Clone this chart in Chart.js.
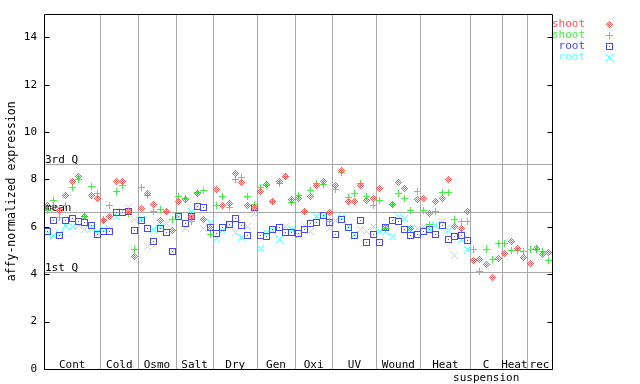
<!DOCTYPE html>
<html><head><meta charset="utf-8">
<script src="https://cdn.jsdelivr.net/npm/chart.js@4.4.1/dist/chart.umd.min.js"></script>
<style>html,body{margin:0;padding:0;background:#fff;}#wrap{width:640px;height:384px;}</style>
</head><body><div id="wrap"><canvas id="c" width="640" height="384"></canvas></div>
<script>
const groupNames = ['Cont','Cold','Osmo','Salt','Dry','Gen','Oxi','UV','Wound','Heat','C\nsuspension','Heat','rec'];
const groupSizes = [9,6,6,6,7,6,6,7,7,8,5,4,4];
const yTicks = [0,2,4,6,8,10,12,14];
const refLabels = ['3rd Q','mean','1st Q'];
const refValues = [8.67, 6.61, 4.08];
const seriesLabels = ['shoot','shoot','root','root'];
const seriesColors = ['#ff5050','#40f040','#4848f0','#60ffff'];

const shootRep1 = [6.88,6.80,6.70,7.32,7.92,8.13,6.42,7.32,7.19,
 6.25,6.45,7.92,7.92,6.66,4.73,
 6.77,7.40,6.94,6.28,6.66,5.86,
 7.05,7.16,6.45,7.40,6.32,5.95,
 7.59,6.91,6.98,8.24,7.87,6.91,6.80,
 7.50,7.78,7.08,7.92,8.13,7.16,
 7.19,6.63,7.30,7.75,7.92,6.60,
 7.75,8.39,7.09,7.08,7.75,7.12,7.19,
 7.61,5.97,6.94,7.87,7.61,5.95,7.16,
 7.19,6.56,7.08,7.19,8.00,6.03,5.93,6.66,
 4.56,4.62,4.41,3.86,4.66,
 4.87,5.39,5.08,4.70,
 4.45,5.08,4.83,4.92];
const shootRep2 = [6.70,7.12,6.39,6.91,7.66,7.99,6.45,7.71,7.40,
 6.31,6.91,7.50,7.75,6.56,5.06,
 7.64,7.33,6.63,6.73,6.63,6.31,
 7.26,7.19,6.24,7.44,7.54,5.67,
 6.91,7.30,6.81,7.99,8.08,7.26,6.94,
 7.68,7.75,7.08,7.82,8.13,7.01,
 7.33,6.63,7.54,7.82,7.78,6.21,
 7.57,8.29,7.23,7.40,7.82,7.26,6.88,
 7.12,5.95,6.94,7.40,7.19,6.70,7.50,
 6.70,6.11,6.66,7.45,7.45,6.32,6.24,6.24,
 5.04,4.10,5.04,4.62,5.29,
 5.29,4.99,4.99,4.94,
 5.04,5.04,4.97,4.59];
const rootRep1 = [5.79,6.25,5.65,6.25,6.35,6.24,6.18,6.07,5.69,
 5.82,5.82,6.60,6.59,6.66,5.86,
 6.28,5.93,5.39,5.95,5.76,4.94,
 6.42,6.14,6.42,6.87,6.81,5.98,
 5.72,5.98,6.10,6.35,6.07,5.65,6.81,
 5.65,5.60,5.88,5.97,5.76,5.76,
 5.72,5.88,6.14,6.18,6.49,6.17,
 5.67,6.32,5.97,5.65,6.27,5.34,5.67,
 5.34,5.97,6.27,6.21,5.88,5.65,5.67,
 5.80,5.88,5.68,6.05,5.48,5.60,5.64,5.43];
const rootRep2 = [5.72,5.65,5.72,6.07,6.00,6.05,5.89,5.97,5.79,
 5.89,5.93,6.45,6.66,6.80,6.31,
 6.31,5.18,5.89,6.00,6.14,4.97,
 6.45,5.93,6.66,6.85,5.93,6.17,
 5.50,5.86,6.10,5.76,5.55,6.03,6.56,
 5.08,5.76,5.86,5.46,6.03,5.90,
 5.65,6.04,5.79,6.42,6.49,5.95,
 6.25,6.39,6.00,5.69,5.88,5.79,6.03,
 5.79,5.79,5.60,6.42,6.35,5.95,5.95,
 6.00,5.90,6.05,6.21,5.86,4.80,5.46,5.05];

function sprite(rows, color){
  const c = document.createElement('canvas');
  c.width = rows[0].length; c.height = rows.length;
  const g = c.getContext('2d'); g.fillStyle = color;
  rows.forEach((r,yy)=>{ for(let xx=0;xx<r.length;xx++) if(r[xx]==='#') g.fillRect(xx,yy,1,1); });
  return c;
}
const sprites = [
  sprite(['...#...','..#.#..','.#.#.#.','#.#.#.#','.#.#.#.','..#.#..','...#...'], seriesColors[0]),
  sprite(['...#...','...#...','...#...','#######','...#...','...#...','...#...'], seriesColors[1]),
  sprite(['#######','#.....#','#.....#','#..#..#','#.....#','#.....#','#######'], seriesColors[2]),
  sprite(['#.....#','.#...#.','..#.#..','...#...','..#.#..','.#...#.','#.....#'], seriesColors[3])
];

function toPoints(arr){ return arr.map((v,i)=>({x:i+0.5,y:v})); }
const allSeries = [shootRep1, shootRep2, rootRep1, rootRep2];

const decor = {
  id:'decor',
  beforeDraw(chart){ chart.ctx.imageSmoothingEnabled = false; },
  beforeDatasetsDraw(chart){
    const {ctx, chartArea:a, scales:{x,y}} = chart;
    ctx.save();
    ctx.imageSmoothingEnabled = false;
    ctx.strokeStyle = '#a8a8a8'; ctx.lineWidth = 1;
    const line=(x1,y1,x2,y2)=>{ctx.beginPath();ctx.moveTo(x1,y1);ctx.lineTo(x2,y2);ctx.stroke();};
    let acc = 0;
    groupSizes.forEach((n,k)=>{ acc+=n; if(k<groupSizes.length-1){ const px=Math.round(x.getPixelForValue(acc))+0.5; line(px,a.top,px,a.bottom);} });
    refValues.forEach(v=>{ const py=Math.round(y.getPixelForValue(v))+0.5; line(a.left,py,a.right,py); });
    ctx.fillStyle='#000'; ctx.font='11px "DejaVu Sans Mono"'; ctx.textBaseline='alphabetic'; ctx.textAlign='left';
    refValues.forEach((v,k)=>{ ctx.fillText(refLabels[k], a.left+1, Math.round(y.getPixelForValue(v))-1); });
    ctx.textAlign='center';
    acc = 0;
    groupNames.forEach((gname,k)=>{
      const cx = x.getPixelForValue(acc+groupSizes[k]/2);
      const parts = gname.split('\n');
      ctx.fillText(parts[0], cx, a.bottom-1.5);
      if(parts[1]) ctx.fillText(parts[1], cx, a.bottom+12);
      acc += groupSizes[k];
    });
    ctx.restore();
  },
  afterDraw(chart){
    const {ctx, chartArea:a, scales:{y}} = chart;
    ctx.save();
    ctx.imageSmoothingEnabled = false;
    ctx.strokeStyle='#000'; ctx.lineWidth=1;
    const L=Math.round(a.left)+0.5, R=Math.round(a.right)+0.5, T=Math.round(a.top)+0.5, B=Math.round(a.bottom)+0.5;
    ctx.beginPath(); ctx.moveTo(L,T); ctx.lineTo(R,T); ctx.lineTo(R,B); ctx.lineTo(L,B); ctx.closePath(); ctx.stroke();
    yTicks.forEach(v=>{
      const py = Math.round(y.getPixelForValue(v))+0.5;
      ctx.beginPath(); ctx.moveTo(L,py); ctx.lineTo(L+5,py); ctx.moveTo(R,py); ctx.lineTo(R-5,py); ctx.stroke();
    });
    ctx.font='11px "DejaVu Sans Mono"'; ctx.textBaseline='middle'; ctx.textAlign='right';
    seriesLabels.forEach((lab,k)=>{
      const ly = 24 + 11*k;
      ctx.fillStyle = seriesColors[k];
      ctx.fillText(lab, 585, ly);
      ctx.drawImage(sprites[k], 606, Math.round(ly)-3);
    });
    ctx.restore();
  }
};

new Chart(document.getElementById('c'), {
  type:'scatter',
  data:{ datasets: allSeries.map((arr,k)=>({
    label: seriesLabels[k], data: toPoints(arr), pointStyle: sprites[k],
    pointRadius: 3.5, pointHoverRadius: 3.5, showLine:false,
    borderColor: seriesColors[k], backgroundColor: seriesColors[k]
  }))},
  options:{
    responsive:false, animation:false, devicePixelRatio:1,
    layout:{ padding:{ left:0, top:13, right:88, bottom:15 } },
    plugins:{ legend:{display:false}, tooltip:{enabled:false} },
    scales:{
      x:{ type:'linear', min:0, max:81, display:false },
      y:{ type:'linear', min:0, max:15,
        afterFit(s){ s.width = 44; },
        afterBuildTicks(s){ s.ticks = yTicks.map(v=>({value:v})); },
        ticks:{ font:{family:'DejaVu Sans Mono', size:11}, color:'#000', padding:7 },
        grid:{ display:false, drawTicks:false },
        border:{ display:false },
        title:{ display:true, text:'affy-normalized expression', color:'#000',
          font:{family:'DejaVu Sans Mono', size:11.5}, padding:{top:5,bottom:0} }
      }
    }
  },
  plugins:[decor]
});
</script></body></html>
